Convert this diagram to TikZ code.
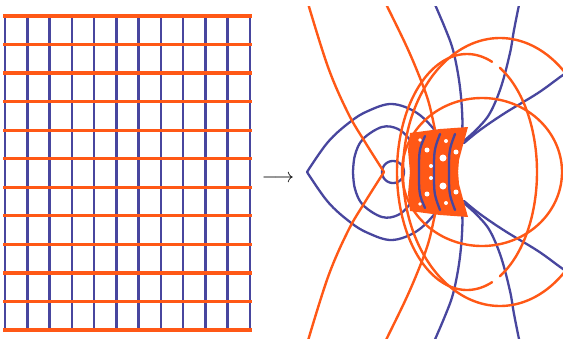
\documentclass[tikz,border=0pt]{standalone}
\definecolor{gblue}{RGB}{72,70,158}
\definecolor{gorange}{RGB}{255,88,22}
\tikzset{
 gridv/.style={gblue, line width=1.3pt},
 gridh/.style={gorange, line width=1.6pt},
 bcurve/.style={gblue, line width=1.15pt, line cap=round},
 ocurve/.style={gorange, line width=1.2pt, line cap=round},
}
\newcommand\halfpic{%
 % blue curves
 \draw[bcurve] plot[smooth,tension=0.6] coordinates {(307,172) (328,142) (350,122) (368,111) (392,104) (417,113) (437,133) (448,152)};
 \draw[bcurve] plot[smooth,tension=0.6] coordinates {(353,172) (355,155) (363,139) (382,127) (398,129) (410,140) (420,158)};
 \draw[bcurve] plot[domain=0:180,samples=30] ({393+11*cos(\x)},{172-11*sin(\x)});
 \draw[bcurve] plot[smooth,tension=0.6] coordinates {(433,0) (445,28) (453,50) (459,80) (462,110) (462,133) (458,150)};
 \draw[bcurve] plot[smooth,tension=0.6] coordinates {(520,0) (514,30) (510,53) (501,87) (490,113) (478,128) (465,140)};
 \draw[bcurve] plot[smooth,tension=0.6] coordinates {(575,68) (563,75) (538,93) (505,113) (480,130) (464,143)};
 % orange curves
 \draw[ocurve] plot[smooth,tension=0.6] coordinates {(307,0) (328,67) (348,113) (365,142) (384,172)};
 \draw[ocurve] plot[smooth,tension=0.6] coordinates {(384,0) (405,43) (418,73) (428,100) (434,125) (438,145)};
 % alpha
 \draw[ocurve] plot[domain=0:180,samples=90] ({500+97*cos(\x)},{172-134*sin(\x)});
 % beta with gap
 \draw[ocurve] plot[domain=0:62,samples=40] ({467+70*cos(\x)},{172-118*sin(\x)});
 \draw[ocurve] plot[domain=69:180,samples=60] ({467+70*cos(\x)},{172-118*sin(\x)});
 % gamma
 \draw[ocurve] plot[domain=0:180,samples=90] ({482+80*cos(\x)},{172-74*sin(\x)});
 % cluster
 \fill[gorange] (410,173) -- (408,150) -- (410,133) -- (440,129) -- (468,127) -- (463,145) -- (459,160) -- (458,173) -- cycle;
 \draw[bcurve] (425,136) .. controls (419,150) .. (419,173);
 \draw[bcurve] (440,134) .. controls (434,150) .. (434,173);
 \draw[bcurve] (455,134) .. controls (449,150) .. (449,173);
 \fill[white] (443,158) circle[radius=3.5];
 \fill[white] (427,150) circle[radius=2.5];
 \fill[white] (456,152) circle[radius=2.5];
 \fill[white] (431,166) circle[radius=2];
 \fill[white] (446,141) circle[radius=2];
 \fill[white] (420,140) circle[radius=1.8];
}
\begin{document}
\begin{tikzpicture}[x=0.5pt,y=-0.5pt]
\useasboundingbox (0,0) rectangle (563,339);
\foreach \i in {0,...,11} \draw[gridv] ({5+\i*245/11},16) -- ({5+\i*245/11},330);
\foreach \i in {0,...,11} \draw[gridh] (3,{16+\i*314/11}) -- (252,{16+\i*314/11});
\node[inner sep=0pt] (arr) at (278,179) {$\longrightarrow$};
\begin{scope}
\clip (300,6) rectangle (563,338);
\halfpic
\begin{scope}[shift={(0,344)},yscale=-1]
\halfpic
\end{scope}
\end{scope}
\end{tikzpicture}
\end{document}
